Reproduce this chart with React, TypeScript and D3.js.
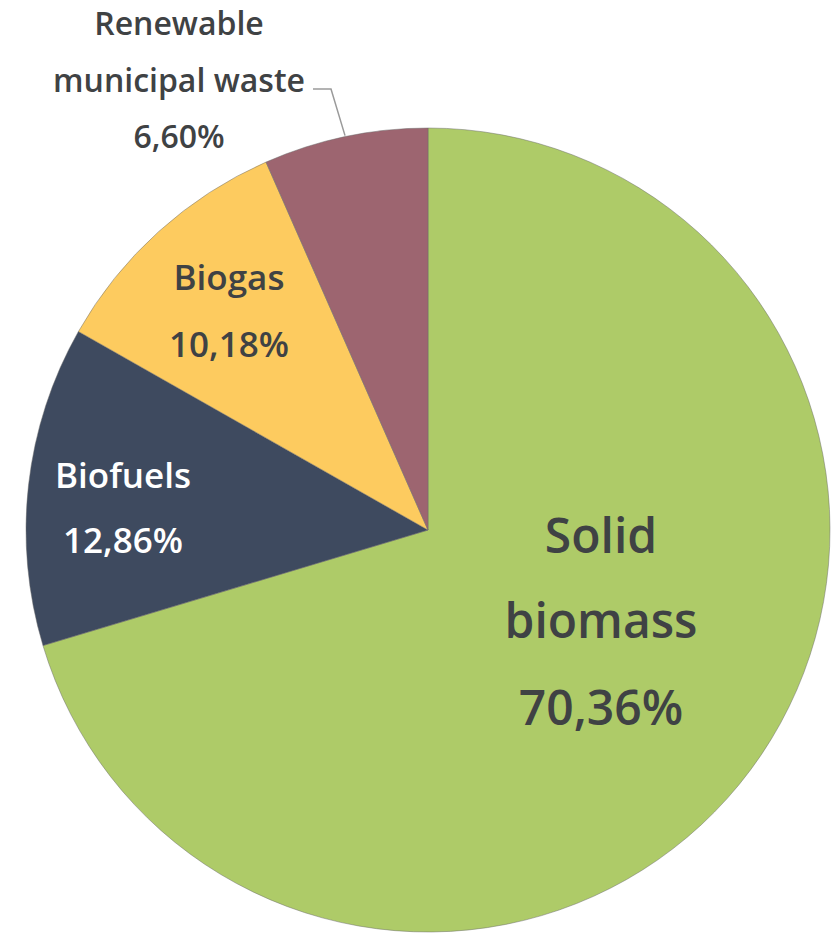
import React from "react";
import * as d3 from "d3";

const categories = ["Solid biomass", "Biofuels", "Biogas", "Renewable municipal waste"];
const values = [70.36, 12.86, 10.18, 6.6];
const valueLabels = ["70,36%", "12,86%", "10,18%", "6,60%"];
const colors = ["#aecb68", "#3e4a5f", "#fdcb5f", "#9d6570"];

const W = 838;
const H = 933;
const cx = 428;
const cy = 530;
const R = 402;

type LabelCfg = { x: number; lines: { text: string; y: number }[]; size: number; fill: string };

export default function App() {
  const pie = d3.pie<number>().sort(null).startAngle(0).endAngle(2 * Math.PI);
  const arcs = pie(values);
  const arc = d3.arc<d3.PieArcDatum<number>>().innerRadius(0).outerRadius(R);

  const labels: LabelCfg[] = [
    {
      x: 601,
      size: 48,
      fill: "#3f4244",
      lines: [
        { text: "Solid", y: 553 },
        { text: "biomass", y: 638 },
        { text: valueLabels[0], y: 725 },
      ],
    },
    {
      x: 123,
      size: 35,
      fill: "#ffffff",
      lines: [
        { text: "Biofuels", y: 488 },
        { text: valueLabels[1], y: 553 },
      ],
    },
    {
      x: 229,
      size: 35,
      fill: "#3f4244",
      lines: [
        { text: "Biogas", y: 290 },
        { text: valueLabels[2], y: 357 },
      ],
    },
    {
      x: 179,
      size: 32,
      fill: "#3f4244",
      lines: [
        { text: "Renewable", y: 35 },
        { text: "municipal waste", y: 92 },
        { text: valueLabels[3], y: 148 },
      ],
    },
  ];

  const rmw = arcs[3];
  const a = (rmw.startAngle + rmw.endAngle) / 2;
  const ex = cx + Math.sin(a) * (R + 1);
  const ey = cy - Math.cos(a) * (R + 1);
  const leader = d3.line()([
    [313, 89],
    [331, 89],
    [ex, ey],
  ]);

  return (
    <svg
      width={W}
      height={H}
      style={{ position: "absolute", left: 0, top: 0, background: "#fff" }}
      fontFamily="'Open Sans', sans-serif"
    >
      <g transform={`translate(${cx},${cy})`}>
        {arcs.map((d, i) => (
          <path
            key={categories[i]}
            d={arc(d) || ""}
            fill={colors[i]}
            stroke="#6a6a6a"
            strokeWidth={0.8}
            strokeOpacity={0.6}
          />
        ))}
      </g>
      <path d={leader || ""} fill="none" stroke="#9a9a9a" strokeWidth={1.5} />
      {labels.map((l, i) => (
        <text key={i} textAnchor="middle" fontSize={l.size} fill={l.fill} fontWeight={600}>
          {l.lines.map((ln, j) => (
            <tspan key={j} x={l.x} y={ln.y}>
              {ln.text}
            </tspan>
          ))}
        </text>
      ))}
    </svg>
  );
}
